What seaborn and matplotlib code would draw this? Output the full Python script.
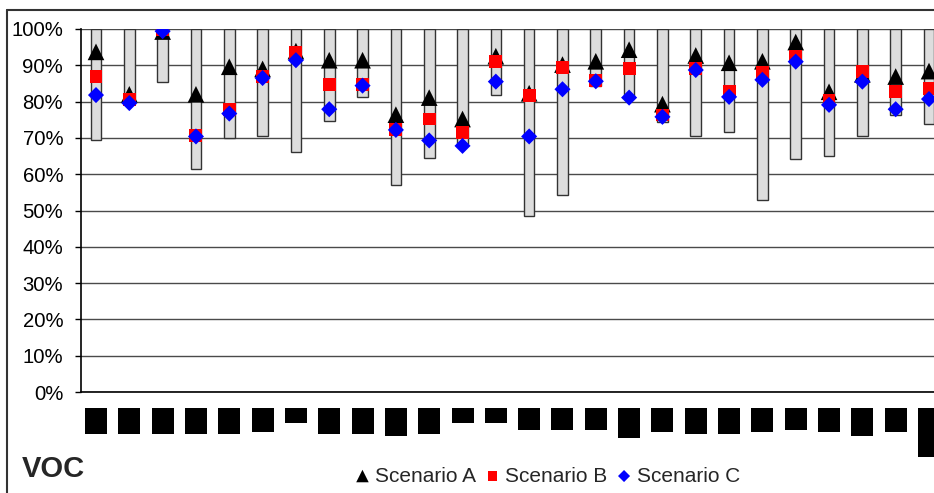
import numpy as np
import matplotlib
matplotlib.use("Agg")
import matplotlib.pyplot as plt
import seaborn as sns
from matplotlib.lines import Line2D
from matplotlib.ticker import PercentFormatter

# values (share, 0-1)
range_low = [0.694, 0.793, 0.855, 0.613, 0.700, 0.704, 0.661, 0.747, 0.812, 0.571,
             0.645, 0.683, 0.817, 0.484, 0.544, 0.843, 0.811, 0.743, 0.704, 0.715,
             0.528, 0.641, 0.651, 0.704, 0.764, 0.737]
scenario_a = [0.937, 0.820, 0.993, 0.820, 0.896, 0.890, 0.939, 0.914, 0.914, 0.764,
              0.811, 0.752, 0.925, 0.823, 0.902, 0.911, 0.943, 0.793, 0.927, 0.907,
              0.911, 0.964, 0.827, 0.875, 0.869, 0.884]
scenario_b = [0.869, 0.805, 0.998, 0.706, 0.777, 0.869, 0.934, 0.847, 0.847, 0.724,
              0.752, 0.714, 0.911, 0.816, 0.895, 0.859, 0.890, 0.763, 0.890, 0.828,
              0.880, 0.925, 0.804, 0.884, 0.827, 0.836]
scenario_c = [0.818, 0.796, 0.994, 0.704, 0.767, 0.865, 0.914, 0.779, 0.844, 0.722,
              0.693, 0.678, 0.855, 0.704, 0.834, 0.856, 0.811, 0.758, 0.887, 0.813,
              0.860, 0.910, 0.791, 0.855, 0.779, 0.807]
# category labels are blacked out in the source; depth of each black block (px)
label_mask_depth = [26, 26, 26, 26, 26, 23.7, 15.3, 26, 26, 27.7, 26, 15.3, 15.3,
                    22, 22, 22, 29.7, 23.7, 26, 26, 23.7, 22, 23.7, 27.7, 23.7, 48.7]
y_ticks = [0, 0.1, 0.2, 0.3, 0.4, 0.5, 0.6, 0.7, 0.8, 0.9, 1.0]

sns.set_theme(style="white")
plt.rcParams["font.family"] = ["Liberation Sans", "DejaVu Sans"]

fig = plt.figure(figsize=(9.34, 4.93), dpi=100)
ax = fig.add_axes([81 / 934, 101 / 493, 853 / 934, 363 / 493])

x = np.arange(len(range_low))
low = np.array(range_low)

ax.bar(x, 1.0 - low, bottom=low, width=0.32, color="#dddddd",
       edgecolor="#333333", linewidth=1, zorder=2)

sns.scatterplot(x=x, y=scenario_a, marker="^", s=12 ** 2, color="black",
                edgecolor="none", ax=ax, zorder=3, label="Scenario A")
sns.scatterplot(x=x, y=scenario_b, marker="s", s=9.3 ** 2, color="#ff0000",
                edgecolor="none", ax=ax, zorder=4, label="Scenario B")
sns.scatterplot(x=x, y=scenario_c, marker="D", s=8.2 ** 2, color="#0000ff",
                edgecolor="none", ax=ax, zorder=5, label="Scenario C")

ax.set_xlim(-0.45, 25.15)
ax.set_ylim(0, 1.0)
ax.set_yticks(y_ticks)
ax.yaxis.set_major_formatter(PercentFormatter(1.0, decimals=0))
ax.set_xticks([])
ax.tick_params(axis="y", labelsize=14.6, length=4.3, width=1, color="black",
               direction="out", left=True, pad=8.5, labelcolor="black")
ax.yaxis.grid(True, color="#4a4a4a", linewidth=1)
ax.set_axisbelow(True)
for side in ["top", "right"]:
    ax.spines[side].set_visible(False)
for side in ["left", "bottom"]:
    ax.spines[side].set_color("black")
    ax.spines[side].set_linewidth(1.2)
ax.set_xlabel("")
ax.set_ylabel("")

handles, labels = ax.get_legend_handles_labels()
if ax.get_legend() is not None:
    ax.get_legend().remove()

# blacked-out category labels
ax2 = fig.add_axes([81 / 934, 33 / 493, 853 / 934, 52 / 493])
ax2.bar(x, label_mask_depth, width=0.66, color="black", linewidth=0)
ax2.set_xlim(-0.45, 25.15)
ax2.set_ylim(52, 0)
ax2.axis("off")

fig.legend(handles, labels, loc="center", bbox_to_anchor=(548 / 934, 17 / 493),
           ncol=3, frameon=False, fontsize=15, markerscale=0.75,
           handlelength=0.6, handletextpad=0.3, columnspacing=0.5)

fig.text(22 / 934, 24 / 493, "VOC", fontsize=21, fontweight="bold",
         ha="left", va="center")

# outer chart frame (left and top edges visible)
fig.add_artist(Line2D([7 / 934, 7 / 934], [0, 483 / 493], color="#333333",
                      linewidth=1.5, transform=fig.transFigure))
fig.add_artist(Line2D([7 / 934, 1], [483 / 493, 483 / 493], color="#333333",
                      linewidth=1.5, transform=fig.transFigure))

fig.savefig("out.png", dpi=100)
